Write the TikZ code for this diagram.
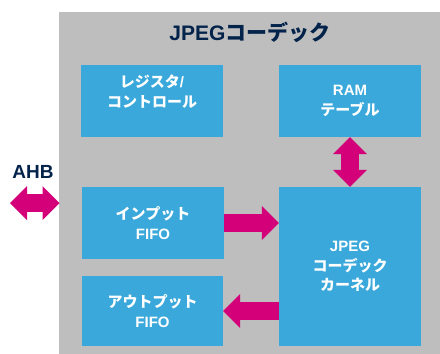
\documentclass[tikz,border=0pt]{standalone}
\usepackage{fontspec}
\setmainfont{Liberation Sans}
\newfontfamily\cjk{Noto Sans CJK JP}
\usetikzlibrary{arrows.meta}
\definecolor{bgray}{HTML}{BEBEBE}
\definecolor{sblue}{HTML}{3AA8DB}
\definecolor{spink}{HTML}{D3007A}
\definecolor{snavy}{HTML}{03234B}
\newcommand{\jp}[1]{{\cjk #1}}
\tikzset{
  block/.style={fill=sblue, draw=none, inner sep=0pt, minimum width=142pt, minimum height=72pt,
    align=center, text=white, font=\bfseries\fontsize{15}{19.5}\selectfont},
  fatline/.style={draw=spink, line width=17.5pt},
  onetip/.style={fatline, -{Triangle[width=34pt,length=17pt,line width=0pt]}},
  twotip/.style={fatline, {Triangle[width=34pt,length=17pt,line width=0pt]}-{Triangle[width=34pt,length=17pt,line width=0pt]}},
}
\begin{document}
\begin{tikzpicture}[x=1pt, y=-1pt]
\useasboundingbox (0,0) rectangle (440,354);
\fill[bgray] (59,12) rectangle (440,354);
\node[text=snavy, font=\bfseries\fontsize{21}{25}\selectfont] (title) at (250,32) {JPEG\jp{コーデック}};
\node[block] (reg) at (152,101) {\jp{レジスタ}/\\\jp{コントロール}\\\mbox{}};
\node[block] (ram) at (350,101) {RAM\\\jp{テーブル}};
\node[block] (in) at (153,223) {\jp{インプット}\\FIFO};
\node[block, minimum width=141pt, minimum height=70pt] (out) at (152.5,311) {\jp{アウトプット}\\FIFO};
\node[block, minimum height=159pt] (kernel) at (350,266.5) {JPEG\\\jp{コーデック}\\\jp{カーネル}};
\node[text=snavy, font=\bfseries\fontsize{19}{23}\selectfont] (ahb) at (33,171.5) {AHB};
\coordinate (ahbL) at (10,203);
\coordinate (ahbR) at (59.5,203);
\draw[twotip] (ahbL) -- (ahbR);
\draw[twotip] (ram.south) -- (kernel.north);
\draw[onetip] (in.east) -- (kernel.west |- in.east);
\draw[onetip] (kernel.west |- out.east) -- (out.east);
\end{tikzpicture}
\end{document}
